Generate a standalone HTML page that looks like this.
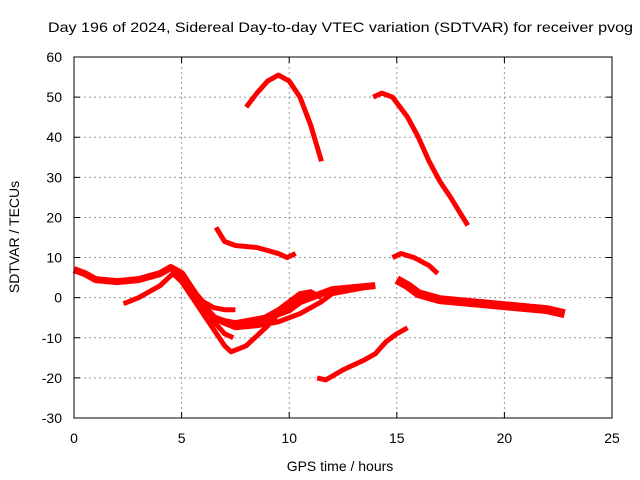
<!DOCTYPE html>
<html><head><meta charset="utf-8"><style>
body{margin:0;background:#fff;}
svg{display:block;font-family:"Liberation Sans",sans-serif;}
</style></head><body>
<svg id="chart" width="640" height="480">
<rect width="640" height="480" fill="#fff"/>
<text x="48" y="32" font-size="14" textLength="585" lengthAdjust="spacingAndGlyphs">Day 196 of 2024, Sidereal Day-to-day VTEC variation (SDTVAR) for receiver pvog</text>
<g id="grid"></g>
<g id="series"></g>
<rect x="74" y="57" width="538" height="361" fill="none" stroke="#000" stroke-width="1"/>
<g id="ticks"></g>
<text x="340" y="471" font-size="14" text-anchor="middle">GPS time / hours</text>
<text x="0" y="0" font-size="14" text-anchor="middle" transform="translate(19,237) rotate(-90)">SDTVAR / TECUs</text>
</svg>
<script>
const xTicks=[0,5,10,15,20,25];
const yTicks=[-30,-20,-10,0,10,20,30,40,50,60];
const arcA=[[8.0,47.5],[8.5,51],[9,54],[9.5,55.5],[10,54],[10.5,50],[11,43],[11.5,34]];
const arcB=[[13.9,50],[14.3,51],[14.8,50],[15.5,45],[16,40],[16.5,34],[17,29],[17.5,25],[18.3,18]];
const segC=[[6.6,17.5],[7,14],[7.5,13],[8.5,12.5],[9.5,11],[9.9,10],[10.3,11]];
const segD=[[14.8,10],[15.2,11],[15.8,10],[16.5,8],[16.9,6]];
const longA=[[0,7],[0.5,6],[1,4.5],[2,4],[3,4.5],[4,6],[4.5,7.5],[5,6],[5.5,2],[6,-2],[6.5,-5],[7,-6],[7.5,-6.5],[8,-6],[9,-5],[10,-3],[10.5,-1],[11,0],[12,2],[13,2.5],[14,3]];
const longB=[[2.3,-1.5],[3,0],[4,3],[4.6,6],[5,4],[5.5,0],[6,-4],[6.5,-8],[7,-12],[7.3,-13.5],[8,-12],[9,-7],[9.5,-4],[10,-1.5],[10.5,0],[11,0.5]];
const branchA=[[5,5],[5.5,2],[6,-1],[6.5,-2.5],[7,-3],[7.5,-3]];
const branchB=[[6,-1],[6.5,-6],[7,-9],[7.4,-10]];
const branchC=[[7.8,-7],[8.5,-6],[9.5,-3],[10,-1],[10.5,1],[11,1.5],[11.5,0]];
const branchD=[[6.8,-6],[7.5,-7.5],[8.5,-7],[9.5,-6],[10.5,-4],[11.5,-1],[12,1],[13,2],[14,3]];
const lowE=[[11.3,-20],[11.7,-20.5],[12.5,-18],[13.5,-15.5],[14,-14],[14.5,-11],[15,-9],[15.5,-7.5]];
const tailF=[[15,4.5],[15.5,3],[16,1],[17,-0.5],[18,-1],[19,-1.5],[20,-2],[21,-2.5],[22,-3],[22.8,-4]];
const seriesList=[[arcA,5],[arcB,5],[segC,5],[segD,5],[longA,7],[longB,5],[branchA,5],[branchB,5],[branchC,5],[branchD,5],[lowE,5],[tailF,9]];
const X=h=>74+h*538/25, Y=v=>57+(60-v)*361/90;
const NS="http://www.w3.org/2000/svg";
const grid=document.getElementById('grid'),ticks=document.getElementById('ticks'),ser=document.getElementById('series');
xTicks.forEach(t=>{
 const x=X(t);
 if(t>0&&t<25){const g=document.createElementNS(NS,'line');g.setAttribute('x1',x);g.setAttribute('x2',x);g.setAttribute('y1',57);g.setAttribute('y2',418);g.setAttribute('stroke','#999');g.setAttribute('stroke-dasharray','2,3');
 
 
 grid.appendChild(g);}
 const tk=document.createElementNS(NS,'path');tk.setAttribute('d',`M${x},418v-6M${x},57v6`);tk.setAttribute('stroke','#000');
 
 
 ticks.appendChild(tk);
 const l=document.createElementNS(NS,'text');l.setAttribute('x',x);l.setAttribute('y',443);l.setAttribute('font-size','14');l.setAttribute('text-anchor','middle');l.textContent=t;
 
 
 ticks.appendChild(l);
});
yTicks.forEach(t=>{
 const y=Y(t);
 if(t>-30&&t<60){const g=document.createElementNS(NS,'line');g.setAttribute('x1',74);g.setAttribute('x2',612);g.setAttribute('y1',y);g.setAttribute('y2',y);g.setAttribute('stroke','#999');g.setAttribute('stroke-dasharray','2,3');
 
 
 grid.appendChild(g);}
 const tk=document.createElementNS(NS,'path');tk.setAttribute('d',`M74,${y}h6M612,${y}h-6`);tk.setAttribute('stroke','#000');
 
 
 ticks.appendChild(tk);
 const l=document.createElementNS(NS,'text');l.setAttribute('x',62);l.setAttribute('y',y+5);l.setAttribute('font-size','14');l.setAttribute('text-anchor','end');l.textContent=t;
 
 
 ticks.appendChild(l);
});
seriesList.forEach(([pts,w])=>{
 const p=document.createElementNS(NS,'polyline');
 p.setAttribute('points',pts.map(q=>X(q[0])+','+Y(q[1])).join(' '));
 p.setAttribute('fill','none');p.setAttribute('stroke','#f00');p.setAttribute('stroke-width',w);p.setAttribute('stroke-linejoin','round');
 
 
 ser.appendChild(p);
});
</script>
</body></html>
